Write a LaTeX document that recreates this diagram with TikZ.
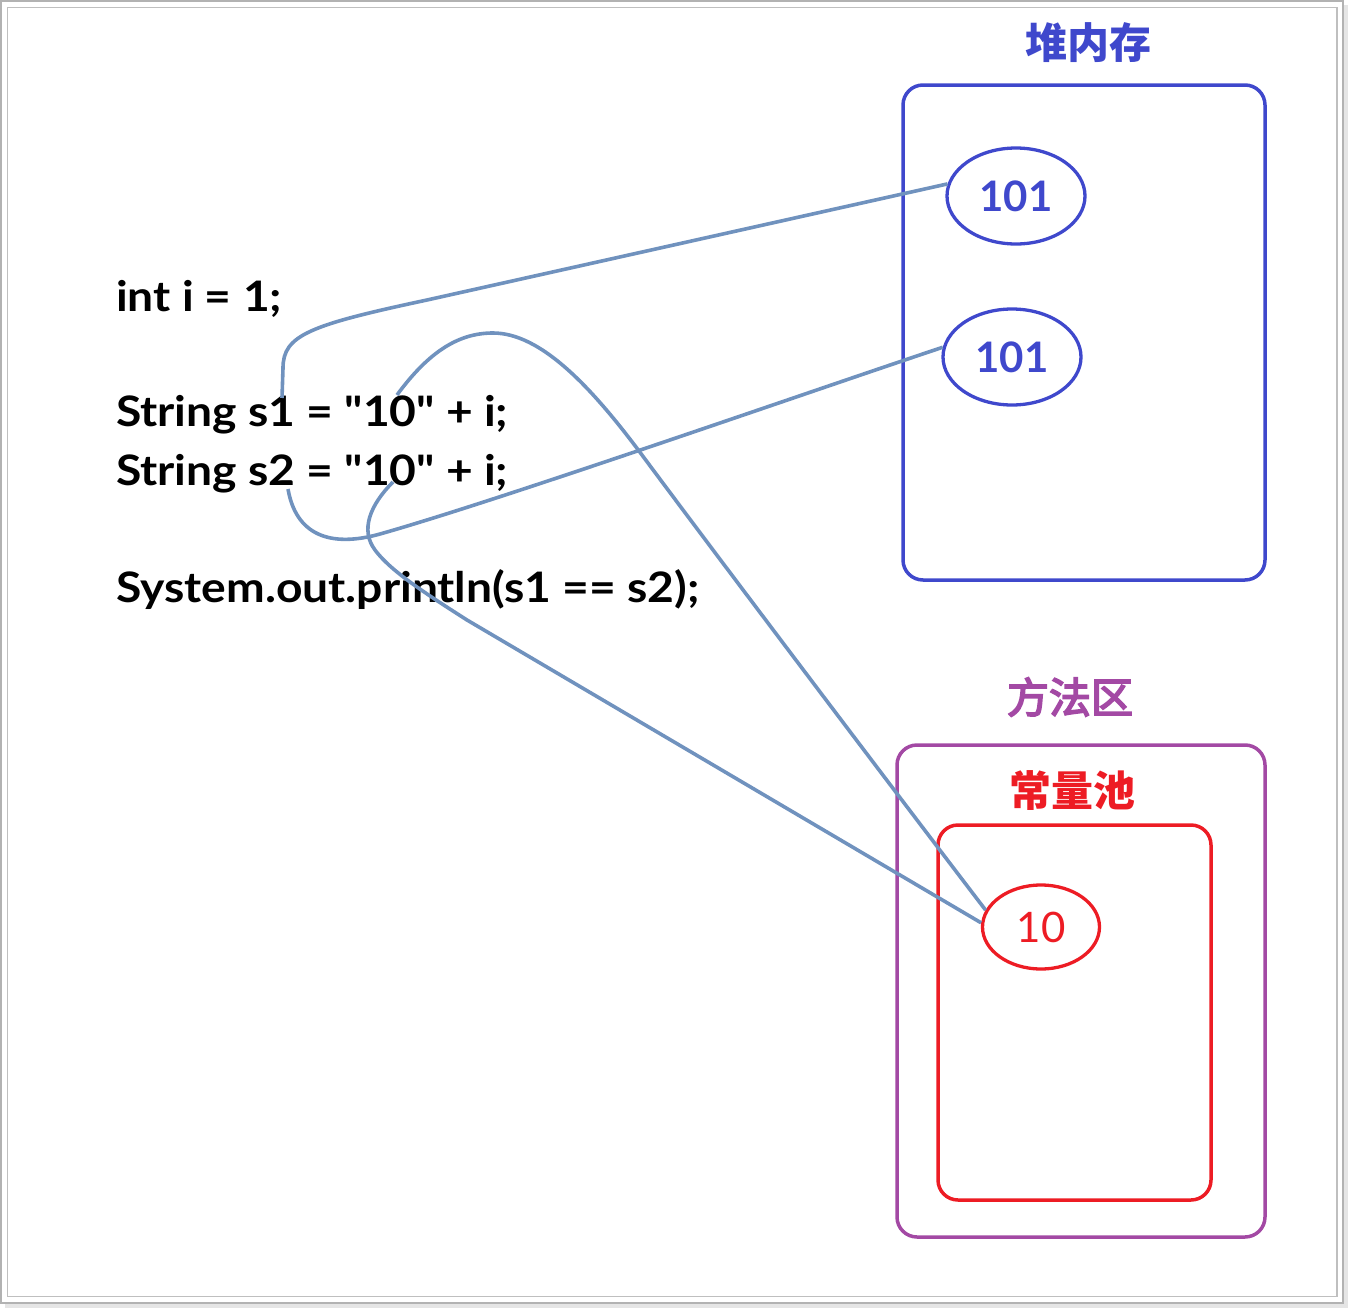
\documentclass[tikz,border=0pt]{standalone}
\usepackage{fontspec}
\setmainfont{Lato}[Ligatures=TeXOff]
\newfontfamily\codefont{Lato}[Ligatures=TeXOff, FakeStretch=1.1]
\newfontfamily\cjk{Noto Sans CJK SC}
\newfontfamily\cjkmed{Noto Sans CJK SC}[FakeBold=4]
\usetikzlibrary{shapes.geometric}
\definecolor{heapblue}{HTML}{3F48CC}
\definecolor{methpurple}{HTML}{A349A4}
\definecolor{poolred}{HTML}{ED1C24}
\definecolor{linkblue}{HTML}{7092BE}
\tikzset{
  codeline/.style={anchor=base west, inner sep=0pt, text=black,
    font=\codefont\fontsize{42}{50}\selectfont\bfseries},
  areabox/.style={draw, rectangle, rounded corners=20pt, line width=3.5pt, inner sep=0pt},
  valoval/.style={draw, ellipse, line width=3.3pt, inner sep=0pt,
    font=\fontsize{42}{50}\selectfont},
  title/.style={inner sep=0pt, font=\cjk\bfseries\fontsize{42}{50}\selectfont},
  link/.style={draw=linkblue, line width=3.6pt}
}
\begin{document}
\begin{tikzpicture}[x=1pt,y=-1pt]
\useasboundingbox (0,0) rectangle (1350,1309);
% frame
\draw[black!10, line width=4pt] (1346,5) -- (1346,1306) -- (5,1306);
\draw[gray!60, line width=1.5pt] (1,1) rectangle (1343,1303);
\draw[gray!50, line width=1.5pt] (7.5,7.5) rectangle (1337,1296.5);

% code
\node[codeline] (l1) at (116,311) {int i = 1;};
\node[codeline] (l2) at (116,426) {String s1 = "10" + i;};
\node[codeline] (l3) at (116,485) {String s2 = "10" + i;};
\node[codeline] (l4) at (116,602) {System.out.println(s1 == s2);};

% heap
\node[title, text=heapblue] (heapT) at (1088,43) {堆内存};
\node[areabox, draw=heapblue, minimum width=362pt, minimum height=495pt] (heap) at (1084,332.5) {};
\node[valoval, draw=heapblue, text=heapblue, font=\fontsize{42}{50}\selectfont\bfseries,
  minimum width=138pt, minimum height=96pt] (h1) at (1016,196) {101};
\node[valoval, draw=heapblue, text=heapblue, font=\fontsize{42}{50}\selectfont\bfseries,
  minimum width=138pt, minimum height=96pt] (h2) at (1012,357) {101};

% method area
\node[title, text=methpurple, font=\cjkmed\fontsize{42}{50}\selectfont] (methT) at (1070,697) {方法区};
\node[areabox, draw=methpurple, minimum width=368pt, minimum height=492pt] (meth) at (1081,991) {};
\node[title, text=poolred] (poolT) at (1072,791) {常量池};
\node[areabox, draw=poolred, minimum width=273pt, minimum height=375pt] (pool) at (1074.5,1012.5) {};
\node[valoval, draw=poolred, text=poolred, minimum width=117pt, minimum height=84pt] (e10) at (1041,927) {10};

% connectors
\coordinate (sA) at (282,398);
\coordinate (sB) at (397,395);
\coordinate (sC) at (288,489);
\coordinate (sD) at (393,482);

\draw[link] (sA) -- (283,368) .. controls (283,335) and (310,325) .. (427,300) -- (h1.170);
\draw[link] (sB) .. controls (430,350) and (460,333) .. (493,333)
  .. controls (540,333) and (590,385) .. (642,455)
  .. controls (720,560) and (890,785) .. (e10.163);
\draw[link] (sC) .. controls (296,535) and (330,548) .. (380,534)
  .. controls (500,500) and (800,395) .. (h2.172);
\draw[link] (sD) .. controls (370,505) and (360,530) .. (375,550)
  .. controls (390,570) and (420,590) .. (467,620) -- (e10.176);
\end{tikzpicture}
\end{document}
